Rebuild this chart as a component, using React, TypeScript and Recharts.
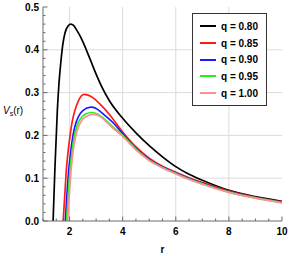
import { LineChart, Line, XAxis, YAxis, ReferenceLine, Legend } from 'recharts'

// effective potential V_s(r) for each q as [r, V]
const q080 = [
  [1.38, 0], [1.45, 0.125], [1.54, 0.258], [1.6, 0.32], [1.67, 0.37], [1.74, 0.41],
  [1.83, 0.44], [1.95, 0.456], [2.05, 0.46], [2.15, 0.457], [2.27, 0.446], [2.4, 0.432],
  [2.52, 0.416], [2.65, 0.397], [2.8, 0.374], [3.0, 0.343], [3.2, 0.315], [3.5, 0.281],
  [4.0, 0.24], [4.5, 0.206], [5.0, 0.176], [5.5, 0.15], [6.0, 0.127], [6.5, 0.109],
  [7.0, 0.095], [8.0, 0.0715], [9.0, 0.0568], [10.0, 0.046],
]
const q085 = [
  [1.76, 0], [1.82, 0.06], [1.88, 0.12], [1.95, 0.165], [2.02, 0.2], [2.1, 0.232],
  [2.2, 0.258], [2.35, 0.283], [2.54, 0.296], [2.7, 0.294], [2.9, 0.287], [3.15, 0.273],
  [3.5, 0.249], [4.0, 0.208], [4.5, 0.173], [5.0, 0.147], [5.5, 0.128], [6.0, 0.114],
  [6.5, 0.101], [7.0, 0.09], [8.0, 0.07], [9.0, 0.0555], [10.0, 0.0445],
]
const q090 = [
  [1.84, 0], [1.9, 0.06], [1.97, 0.12], [2.05, 0.165], [2.13, 0.2], [2.22, 0.225],
  [2.33, 0.243], [2.5, 0.258], [2.8, 0.266], [3.0, 0.263], [3.27, 0.25], [3.65, 0.229],
  [4.0, 0.204], [4.5, 0.17], [5.0, 0.144], [5.5, 0.126], [6.0, 0.112], [6.5, 0.099],
  [7.0, 0.088], [8.0, 0.068], [9.0, 0.0545], [10.0, 0.0435],
]
const q095 = [
  [1.89, 0], [1.95, 0.06], [2.02, 0.12], [2.1, 0.165], [2.18, 0.198], [2.27, 0.22],
  [2.4, 0.238], [2.6, 0.25], [2.83, 0.2535], [3.05, 0.25], [3.27, 0.24], [3.65, 0.219],
  [4.0, 0.2], [4.5, 0.168], [5.0, 0.142], [5.5, 0.125], [6.0, 0.111], [6.5, 0.098],
  [7.0, 0.087], [8.0, 0.0675], [9.0, 0.054], [10.0, 0.043],
]
const q100 = [
  [1.93, 0], [1.99, 0.06], [2.06, 0.12], [2.14, 0.165], [2.22, 0.195], [2.32, 0.217],
  [2.45, 0.234], [2.65, 0.245], [2.86, 0.249], [3.1, 0.246], [3.3, 0.237], [3.65, 0.216],
  [4.0, 0.198], [4.5, 0.166], [5.0, 0.141], [5.5, 0.124], [6.0, 0.11], [6.5, 0.097],
  [7.0, 0.086], [8.0, 0.067], [9.0, 0.0535], [10.0, 0.0425],
]

const seriesNames = ['q = 0.80', 'q = 0.85', 'q = 0.90', 'q = 0.95', 'q = 1.00']
const seriesColors = ['#000000', '#ff1a1a', '#1a1aff', '#22ee22', '#ff9090']
const seriesData = [q080, q085, q090, q095, q100]

const xMajor = [2, 4, 6, 8, 10]
const yMajor = [0, 0.1, 0.2, 0.3, 0.4, 0.5]
const yLabels = ['0.0', '0.1', '0.2', '0.3', '0.4', '0.5']
const xGrid = [2, 4, 6, 8]
const yGrid = [0.1, 0.2, 0.3, 0.4]

// frame ticks: minor every 0.5 on r, every 0.02 on V
const xTicks = Array.from({ length: 19 }, (_, i) => 1 + i * 0.5)
const yTicks = Array.from({ length: 26 }, (_, i) => Math.round(i * 2) / 100)

const FRAME = '#6a6a6a'
const FONT = '"Liberation Sans", Arial, sans-serif'

const isMajorY = (v: number) => Math.abs(v * 10 - Math.round(v * 10)) < 1e-6

const BottomTick = ({ x, y, payload }: any) => {
  const major = xMajor.includes(payload.value)
  return (
    <g>
      <line x1={x} x2={x} y1={y} y2={y - (major ? 4.5 : 2.5)} stroke={FRAME} />
      {major && (
        <text x={x} y={y + 14} textAnchor="middle" fontFamily={FONT} fontSize={10} fontWeight="bold" fill="#000">
          {payload.value}
        </text>
      )}
    </g>
  )
}

const TopTick = ({ x, y, payload }: any) => {
  const major = xMajor.includes(payload.value)
  return <line x1={x} x2={x} y1={y} y2={y + (major ? 4.5 : 2.5)} stroke={FRAME} />
}

const LeftTick = ({ x, y, payload }: any) => {
  const major = isMajorY(payload.value)
  const idx = yMajor.findIndex((m) => Math.abs(m - payload.value) < 1e-6)
  return (
    <g>
      <line x1={x} x2={x + (major ? 4.5 : 2.5)} y1={y} y2={y} stroke={FRAME} />
      {major && (
        <text x={x - 4} y={y} dy="0.36em" textAnchor="end" fontFamily={FONT} fontSize={10} fontWeight="bold" fill="#000">
          {yLabels[idx]}
        </text>
      )}
    </g>
  )
}

const RightTick = ({ x, y, payload }: any) => {
  const major = isMajorY(payload.value)
  return <line x1={x} x2={x - (major ? 4.5 : 2.5)} y1={y} y2={y} stroke={FRAME} />
}

const YLabel = ({ viewBox }: any) => {
  const cy = viewBox.y + viewBox.height / 2
  return (
    <text x={3} y={cy} fontFamily={FONT} fontSize={10} fill="#000">
      <tspan fontStyle="italic">V</tspan>
      <tspan fontSize={7} dy={2}>s</tspan>
      <tspan dy={-2}>(r)</tspan>
    </text>
  )
}

const LegendBox = ({ payload }: any) => (
  <div
    style={{
      width: 75,
      height: 93,
      boxSizing: 'border-box',
      border: '1px solid #333',
      background: '#fff',
      paddingTop: 4,
      fontFamily: FONT,
      fontSize: 10,
      fontWeight: 'bold',
      color: '#000',
    }}
  >
    {(payload || []).map((p: any) => (
      <div key={p.value} style={{ display: 'flex', alignItems: 'center', height: 16.7 }}>
        <div style={{ width: 16, height: 2, marginLeft: 7, marginRight: 5, background: p.color }} />
        <span>{p.value}</span>
      </div>
    ))}
  </div>
)

export default function App() {
  return (
    <div style={{ position: 'absolute', left: 0, top: 0, width: 289, height: 256, background: '#fff' }}>
      <LineChart width={289} height={256} margin={{ top: 7, right: 7, left: 0, bottom: 0 }}>
        <XAxis
          xAxisId="b"
          dataKey="r"
          type="number"
          domain={[1, 10]}
          allowDataOverflow
          ticks={xTicks}
          interval={0}
          tickSize={0}
          tickMargin={0}
          tickLine={false}
          tick={<BottomTick />}
          axisLine={{ stroke: FRAME }}
          height={35}
          label={{ value: 'r', position: 'insideBottom', offset: 3, fontFamily: FONT, fontSize: 10, fontWeight: 'bold', fill: '#000' }}
        />
        <XAxis
          xAxisId="t"
          orientation="top"
          dataKey="r"
          type="number"
          domain={[1, 10]}
          allowDataOverflow
          ticks={xTicks}
          interval={0}
          tickSize={0}
          tickMargin={0}
          tickLine={false}
          tick={<TopTick />}
          axisLine={{ stroke: FRAME }}
          height={0}
        />
        <YAxis
          yAxisId="l"
          type="number"
          domain={[0, 0.5]}
          allowDataOverflow
          ticks={yTicks}
          interval={0}
          tickSize={0}
          tickMargin={0}
          tickLine={false}
          tick={<LeftTick />}
          axisLine={{ stroke: FRAME }}
          width={43}
          label={{ content: <YLabel /> }}
        />
        <YAxis
          yAxisId="r"
          orientation="right"
          type="number"
          domain={[0, 0.5]}
          allowDataOverflow
          ticks={yTicks}
          interval={0}
          tickSize={0}
          tickMargin={0}
          tickLine={false}
          tick={<RightTick />}
          axisLine={{ stroke: FRAME }}
          width={0}
        />
        {xGrid.map((g) => (
          <ReferenceLine key={'x' + g} x={g} xAxisId="b" yAxisId="l" stroke="#dcdcdc" strokeWidth={1} />
        ))}
        {yGrid.map((g) => (
          <ReferenceLine key={'y' + g} y={g} xAxisId="b" yAxisId="l" stroke="#dcdcdc" strokeWidth={1} />
        ))}
        {seriesData.map((pts, i) => (
          <Line
            key={seriesNames[i]}
            xAxisId="b"
            yAxisId="l"
            data={pts.map(([r, v]) => ({ r, v }))}
            dataKey="v"
            name={seriesNames[i]}
            type="monotone"
            stroke={seriesColors[i]}
            strokeWidth={1.7}
            dot={false}
            activeDot={false}
            isAnimationActive={false}
          />
        ))}
        <Legend
          layout="vertical"
          align="center"
          verticalAlign="middle"
          content={<LegendBox />}
          wrapperStyle={{ left: 192, top: 13, width: 75, height: 93 }}
        />
      </LineChart>
    </div>
  )
}
